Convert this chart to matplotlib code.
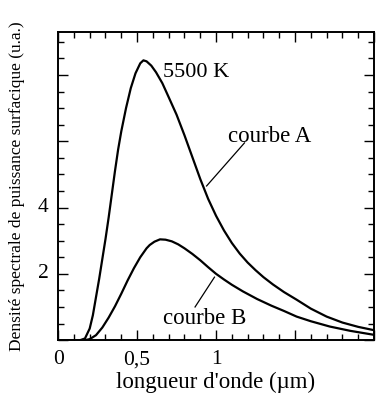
import numpy as np
import matplotlib
matplotlib.use('Agg')
import matplotlib.pyplot as plt
from matplotlib.ticker import MultipleLocator

# values
lam_a = [0.00, 0.14, 0.17, 0.20, 0.22, 0.24, 0.26, 0.28, 0.30, 0.32, 0.34, 0.36,
         0.38, 0.40, 0.43, 0.46, 0.49, 0.52, 0.54, 0.56, 0.59, 0.62, 0.66, 0.70,
         0.75, 0.80, 0.85, 0.90, 0.95, 1.00, 1.05, 1.10, 1.15, 1.20, 1.25, 1.30,
         1.36, 1.43, 1.51, 1.60, 1.70, 1.80, 1.90, 2.00]
dens_a = [0.0, 0.0, 0.05, 0.35, 0.75, 1.3, 1.85, 2.45, 3.05, 3.7, 4.4, 5.1,
          5.75, 6.3, 7.0, 7.6, 8.05, 8.35, 8.44, 8.41, 8.28, 8.08, 7.75, 7.33,
          6.8, 6.18, 5.52, 4.86, 4.26, 3.75, 3.31, 2.93, 2.61, 2.34, 2.11, 1.90,
          1.68, 1.45, 1.22, 0.95, 0.71, 0.53, 0.40, 0.30]

lam_b = [0.00, 0.17, 0.20, 0.24, 0.28, 0.32, 0.36, 0.40, 0.44, 0.48, 0.52, 0.56,
         0.58, 0.61, 0.645, 0.68, 0.72, 0.76, 0.80, 0.85, 0.90, 0.95, 1.00, 1.05,
         1.10, 1.17, 1.26, 1.35, 1.43, 1.51, 1.60, 1.72, 1.85, 2.00]
dens_b = [0.0, 0.0, 0.03, 0.15, 0.38, 0.68, 1.02, 1.4, 1.8, 2.17, 2.5, 2.77,
          2.87, 2.97, 3.04, 3.03, 2.98, 2.89, 2.77, 2.6, 2.41, 2.2, 2.0, 1.83,
          1.67, 1.47, 1.24, 1.04, 0.88, 0.71, 0.57, 0.41, 0.28, 0.16]

x_tick_pos = [0, 0.5, 1]
x_tick_lab = ['0', '0,5', '1']
y_tick_pos = [2, 4]
y_tick_lab = ['2', '4']

plt.rcParams['font.family'] = ['Liberation Serif', 'DejaVu Serif']

fig = plt.figure(figsize=(3.9, 4.03), dpi=100)
ax = fig.add_axes([0.149, 0.156, 0.81, 0.765])

ax.plot(lam_a, dens_a, color='black', lw=1.6)
ax.plot(lam_b, dens_b, color='black', lw=1.6)

ax.set_xlim(0, 2.0)
ax.set_ylim(0, 9.3)

# ticks on all sides, pointing in
ax.xaxis.set_major_locator(MultipleLocator(0.5))
ax.xaxis.set_minor_locator(MultipleLocator(0.1))
ax.yaxis.set_major_locator(MultipleLocator(2))
ax.yaxis.set_minor_locator(MultipleLocator(0.5))
ax.tick_params(which='both', direction='in', top=True, right=True, width=1.0)
ax.tick_params(which='major', length=7)
ax.tick_params(which='minor', length=4)
ax.set_xticklabels([])
ax.set_yticklabels([])
for s in ax.spines.values():
    s.set_linewidth(1.4)

# only a few labels are printed in the original
for xv, lab in zip(x_tick_pos, x_tick_lab):
    ax.text(xv, -0.3, lab, ha='center', va='top', fontsize=15.5)
for yv, lab in zip(y_tick_pos, y_tick_lab):
    ax.text(-0.06, yv, lab, ha='right', va='center', fontsize=15.5)

ax.set_xlabel("longueur d'onde (\u00b5m)", fontsize=16.5, labelpad=19)
ax.set_ylabel('Densit\u00e9 spectrale de puissance surfacique (u.a.)',
              fontsize=12.5, labelpad=20)

ax.text(0.665, 7.95, '5500 K', fontsize=16, ha='left', va='baseline')
ax.text(1.075, 5.98, 'courbe A', fontsize=16.5, ha='left', va='baseline')
ax.plot([0.94, 1.18], [4.65, 5.95], color='black', lw=0.9)
ax.text(0.665, 0.5, 'courbe B', fontsize=16.5, ha='left', va='baseline')
ax.plot([0.867, 0.99], [1.0, 1.9], color='black', lw=0.9)

fig.savefig('out.png', dpi=100)
